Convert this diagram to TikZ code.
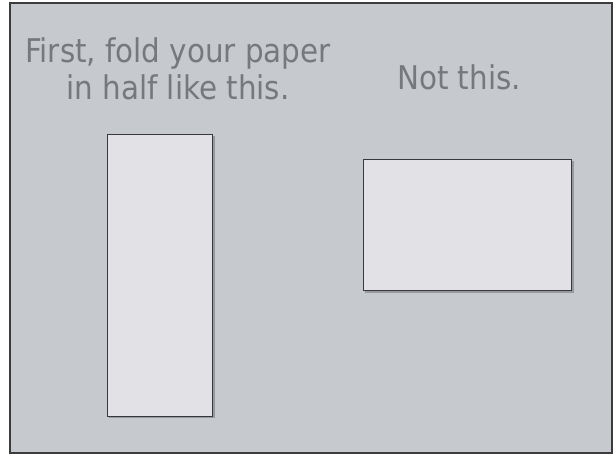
\documentclass[tikz,border=0pt]{standalone}
\usepackage{fontspec}
\setmainfont{DejaVu Sans Condensed}
\begin{document}
\begin{tikzpicture}[x=0.75pt,y=-0.75pt,
  bg/.style={fill=bgcol,draw=framecol,line width=1.5pt},
  sheet/.style={fill=sheetcol,draw=edgecol,line width=0.8pt},
  shade/.style={fill=shadecol,draw=none},
  caption/.style={text=textcol,font=\fontsize{24.5}{29}\selectfont,align=center,inner sep=0pt}]
\definecolor{bgcol}{RGB}{198,202,206}
\definecolor{framecol}{RGB}{60,60,60}
\definecolor{sheetcol}{RGB}{226,226,230}
\definecolor{edgecol}{RGB}{55,55,60}
\definecolor{shadecol}{RGB}{150,154,158}
\definecolor{textcol}{RGB}{118,121,124}
\useasboundingbox (0,0) rectangle (615,457);
\fill[white] (0,0) rectangle (615,457);
\draw[bg] (10,3) rectangle (612,453);
% left sheet (tall)
\fill[shade] (109,136) rectangle (215,418);
\node[sheet,minimum width=105*0.75pt,minimum height=282*0.75pt,inner sep=0pt,anchor=north west] (tall) at (107,134) {};
% right sheet (wide)
\fill[shade] (365,161) rectangle (574,293);
\node[sheet,minimum width=208*0.75pt,minimum height=131*0.75pt,inner sep=0pt,anchor=north west] (wide) at (363,159) {};
\node[caption,anchor=base] (l1) at (178,62) {First, fold your paper};
\node[caption,anchor=base] (l2) at (178,99) {in half like this.};
\node[caption,anchor=base] (r1) at (459,89) {Not this.};
\end{tikzpicture}
\end{document}
